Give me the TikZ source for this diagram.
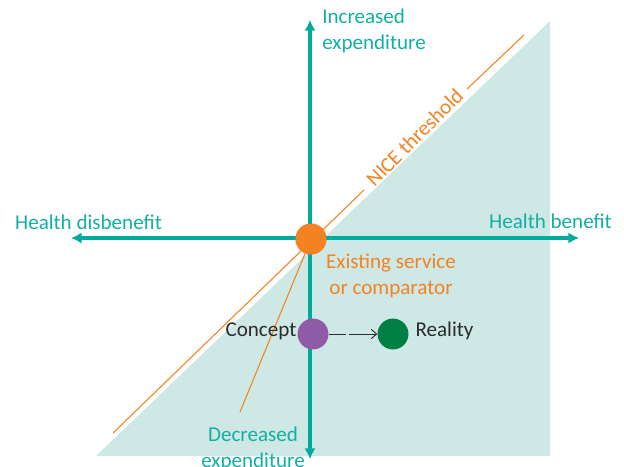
\documentclass[tikz,border=0pt]{standalone}
\usepackage{fontspec}
\setmainfont{Carlito}
\usetikzlibrary{arrows.meta}
\definecolor{teal1}{HTML}{00AB9E}
\definecolor{tealtext}{HTML}{12B0A2}
\definecolor{pale}{HTML}{CEE8E6}
\definecolor{orange1}{HTML}{F58220}
\definecolor{purple1}{HTML}{8F5BA6}
\definecolor{green1}{HTML}{007F45}
\definecolor{ink}{HTML}{2B2B2B}
\tikzset{
  axisline/.style={draw=teal1,line width=2.4pt,-{Latex[length=8pt,width=8.5pt]}},
  thresh/.style={draw=orange1,line width=0.8pt},
  dot/.style={circle,minimum size=23.2pt,inner sep=0pt,fill=#1},
  lbl/.style={font=\fontsize{15.8}{19.5}\selectfont,inner sep=0pt,align=center},
}
\begin{document}
\begin{tikzpicture}[x=0.75pt,y=-0.75pt]
\useasboundingbox (0,0) rectangle (624,467);
\fill[pale] (96,456) -- (550,21) -- (550,456) -- cycle;
\coordinate (top) at (310,20);
\coordinate (bottom) at (310,459);
\coordinate (left) at (71,238);
\coordinate (right) at (579,238);
\coordinate (t1) at (113,433);
\coordinate (t2) at (364,190);
\coordinate (t3) at (467,89);
\coordinate (t4) at (524,35);
\coordinate (s1) at (240,412);
\node[dot=orange1] (origin) at (311,239) {};
\draw[thresh] (t1) -- (t2);
\draw[thresh] (t3) -- (t4);
\draw[thresh] (s1) -- (origin);
\draw[axisline] (origin) ++(-1,0) -- (top);
\draw[axisline] (origin) ++(-1,0) -- (bottom);
\draw[axisline] (origin) ++(0,-1) -- (left);
\draw[axisline] (origin) ++(0,-1) -- (right);
\node[dot=orange1] (origin2) at (311,239) {};
\node[dot=purple1] (concept) at (313,334) {};
\node[dot=green1] (reality) at (393,334) {};
\draw[draw=ink,line width=0.7pt,dash pattern=on 13pt off 2.5pt on 40pt,-{Straight Barb[length=4pt,width=7pt]}] (concept) -- (reality);
\node[lbl,text=tealtext,align=left,anchor=north west] (inc) at (322,9) {Increased\\expenditure};
\node[lbl,text=tealtext] (dec) at (253,448.5) {Decreased\\expenditure};
\node[lbl,text=tealtext] (dis) at (88.5,222) {Health disbenefit};
\node[lbl,text=tealtext] (ben) at (550.5,221.5) {Health benefit};
\node[lbl,text=orange1] (ex) at (391,276) {Existing service\\or comparator};
\node[lbl,text=orange1,rotate=45] (nice) at (414.5,137.5) {NICE threshold};
\node[lbl,text=ink] (cl) at (261,331) {Concept};
\node[lbl,text=ink] (rl) at (444.5,330.5) {Reality};
\end{tikzpicture}
\end{document}
